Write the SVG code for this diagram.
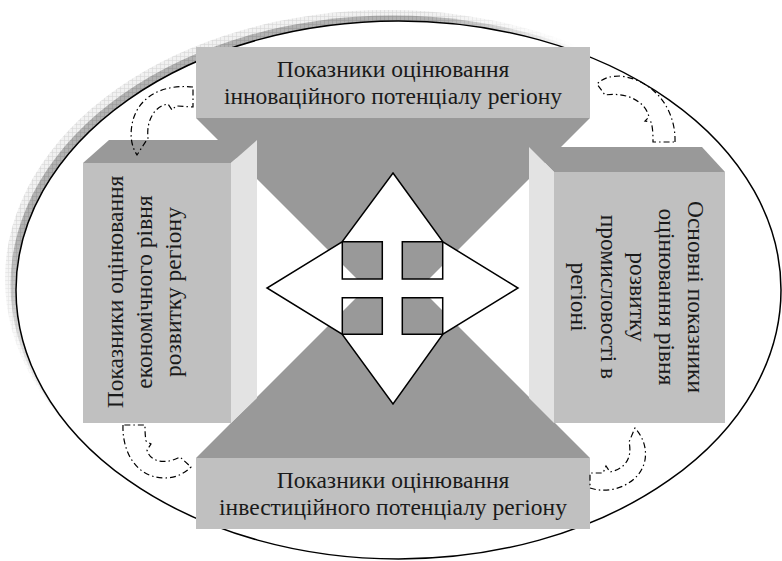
<svg xmlns="http://www.w3.org/2000/svg" width="782" height="561" viewBox="0 0 782 561">
<style>
.lbl{font-family:"Liberation Serif","Times New Roman",serif;font-size:23.5px;fill:#1a1a1a;text-anchor:middle}
.front{fill:#c0c0c0}
.topface{fill:#999999}
.sideface{fill:#e3e3e3}
.tri{fill:#999999}
.arrow{fill:none;stroke:#000;stroke-width:1.2;stroke-dasharray:6 3 1.5 3}
</style>
<defs>
<pattern id="gridDark" width="4" height="4" patternUnits="userSpaceOnUse"><rect width="4" height="4" fill="#b2b2b2"/><path d="M0,0.5H4M0.5,0V4" stroke="#999" stroke-width="0.6"/></pattern>
<pattern id="gridLight" width="4" height="4" patternUnits="userSpaceOnUse"><rect width="4" height="4" fill="#f1f1f1"/><path d="M0,0.5H4M0.5,0V4" stroke="#d6d6d6" stroke-width="0.6"/></pattern>
<radialGradient id="fadeG" gradientUnits="userSpaceOnUse" cx="200" cy="80" r="400"><stop offset="0.6" stop-color="#fff"/><stop offset="0.95" stop-color="#000"/></radialGradient>
<mask id="fadeM"><rect width="782" height="561" fill="url(#fadeG)"/></mask>
</defs>
<rect width="782" height="561" fill="#fff"/>
<g id="ellipse">
<g mask="url(#fadeM)">
<ellipse cx="387.5" cy="279" rx="382.5" ry="269" fill="url(#gridLight)"/>
<ellipse cx="393" cy="284.5" rx="382.5" ry="269" fill="url(#gridDark)"/>
</g>
<ellipse cx="398.5" cy="290" rx="382.5" ry="269" fill="#fff" stroke="#000" stroke-width="1.5"/>
</g>
<g id="hourglass">
<polygon class="tri" points="196,118 590,118 393,315"/>
<polygon class="tri" points="196,458 590,458 393,261"/>
</g>
<g id="node-top">
<rect class="front" x="196" y="47" width="394" height="71"/>
<text class="lbl" x="393" y="77">Показники оцінювання</text>
<text class="lbl" x="393" y="104">інноваційного потенціалу регіону</text>
</g>
<g id="node-bottom">
<rect class="front" x="196" y="458" width="394" height="71"/>
<text class="lbl" x="393" y="488">Показники оцінювання</text>
<text class="lbl" x="393" y="515">інвестиційного потенціалу регіону</text>
</g>
<g id="node-left">
<polygon class="topface" points="83,163 109,140 257,140 231,163"/>
<polygon class="sideface" points="231,163 257,140 257,398 231,423"/>
<rect class="front" x="83" y="163" width="148" height="260"/>
<g transform="translate(0,292) rotate(-90)">
<text class="lbl" x="0" y="123">Показники оцінювання</text>
<text class="lbl" x="0" y="152">економічного рівня</text>
<text class="lbl" x="0" y="181">розвитку регіону</text>
</g>
</g>
<g id="node-right">
<polygon class="topface" points="529,147 702,147 725,172 554,172"/>
<polygon class="sideface" points="529,147 554,172 554,423 529,398"/>
<rect class="front" x="554" y="172" width="171" height="251"/>
<g transform="translate(0,297) rotate(90)">
<text class="lbl" x="0" y="-688">Основні показники</text>
<text class="lbl" x="0" y="-659">оцінювання рівня</text>
<text class="lbl" x="0" y="-630">розвитку</text>
<text class="lbl" x="0" y="-601">промисловості в</text>
<text class="lbl" x="0" y="-571">регіоні</text>
</g>
</g>
<g id="node-center">
<path d="M393,173 L443,242 L518,288 L443,334 L393,404 L342,334 L267,288 L342,242 Z M342.3,241.7 V279 H382.3 V241.7 Z M402.3,241.7 V279 H442.7 V241.7 Z M342.3,297.7 V334.3 H382.3 V297.7 Z M402.3,297.7 V334.3 H442.7 V297.7 Z" fill="#fff" fill-rule="evenodd" stroke="#000" stroke-width="1.5" stroke-linejoin="miter"/>
</g>
<g id="connectors">
<path class="arrow" d="M193,87 C165,84 140,95 133,120 C130,132 130,144 137,155 L148,138 C146,120 155,106 168,104 L172,110 L176,106 C182,106 188,107 193,107 Z"/>
<path class="arrow" d="M675,142 C676,110 655,80 620,76 C610,76 603,78 597,84 L605,95 C625,92 645,100 649,117 L645,121 L651,122 C653,128 653,136 653,142 Z"/>
<path class="arrow" d="M123,425 C122,450 135,478 165,478 C175,478 184,474 191,467 L180,457 C165,465 150,462 147,450 L151,444 L146,441 C145,435 145,430 145,425 Z"/>
<path class="arrow" d="M590,488 C610,495 640,485 645,460 C647,448 643,437 635,428 L629,442 C632,455 628,468 610,472 L606,466 L603,473 C598,473 594,473 590,473 Z"/>
</g>
</svg>
